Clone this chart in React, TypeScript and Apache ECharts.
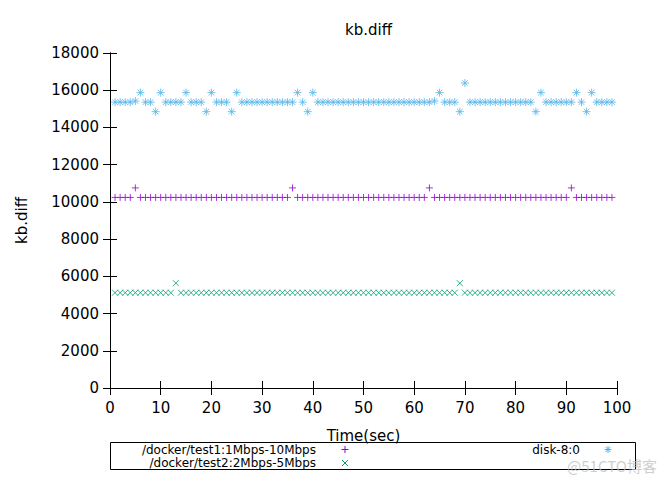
import React, { useEffect, useRef } from 'react';
import * as echarts from 'echarts';

const time = [
  1, 2, 3, 4, 5, 6, 7, 8, 9, 10,
  11, 12, 13, 14, 15, 16, 17, 18, 19, 20,
  21, 22, 23, 24, 25, 26, 27, 28, 29, 30,
  31, 32, 33, 34, 35, 36, 37, 38, 39, 40,
  41, 42, 43, 44, 45, 46, 47, 48, 49, 50,
  51, 52, 53, 54, 55, 56, 57, 58, 59, 60,
  61, 62, 63, 64, 65, 66, 67, 68, 69, 70,
  71, 72, 73, 74, 75, 76, 77, 78, 79, 80,
  81, 82, 83, 84, 85, 86, 87, 88, 89, 90,
  91, 92, 93, 94, 95, 96, 97, 98, 99,
];

const test1 = [
  10240, 10240, 10240, 10240, 10752, 10240, 10240, 10240, 10240, 10240,
  10240, 10240, 10240, 10240, 10240, 10240, 10240, 10240, 10240, 10240,
  10240, 10240, 10240, 10240, 10240, 10240, 10240, 10240, 10240, 10240,
  10240, 10240, 10240, 10240, 10240, 10752, 10240, 10240, 10240, 10240,
  10240, 10240, 10240, 10240, 10240, 10240, 10240, 10240, 10240, 10240,
  10240, 10240, 10240, 10240, 10240, 10240, 10240, 10240, 10240, 10240,
  10240, 10240, 10752, 10240, 10240, 10240, 10240, 10240, 10240, 10240,
  10240, 10240, 10240, 10240, 10240, 10240, 10240, 10240, 10240, 10240,
  10240, 10240, 10240, 10240, 10240, 10240, 10240, 10240, 10240, 10240,
  10752, 10240, 10240, 10240, 10240, 10240, 10240, 10240, 10240,
];

const test2 = [
  5120, 5120, 5120, 5120, 5120, 5120, 5120, 5120, 5120, 5120,
  5120, 5120, 5632, 5120, 5120, 5120, 5120, 5120, 5120, 5120,
  5120, 5120, 5120, 5120, 5120, 5120, 5120, 5120, 5120, 5120,
  5120, 5120, 5120, 5120, 5120, 5120, 5120, 5120, 5120, 5120,
  5120, 5120, 5120, 5120, 5120, 5120, 5120, 5120, 5120, 5120,
  5120, 5120, 5120, 5120, 5120, 5120, 5120, 5120, 5120, 5120,
  5120, 5120, 5120, 5120, 5120, 5120, 5120, 5120, 5632, 5120,
  5120, 5120, 5120, 5120, 5120, 5120, 5120, 5120, 5120, 5120,
  5120, 5120, 5120, 5120, 5120, 5120, 5120, 5120, 5120, 5120,
  5120, 5120, 5120, 5120, 5120, 5120, 5120, 5120, 5120,
];

const disk = [
  15360, 15360, 15360, 15360, 15420, 15872, 15360, 15360, 14848, 15872,
  15360, 15360, 15360, 15360, 15872, 15360, 15360, 15360, 14848, 15872,
  15360, 15360, 15360, 14848, 15872, 15360, 15360, 15360, 15360, 15360,
  15360, 15360, 15360, 15360, 15360, 15360, 15872, 15360, 14848, 15872,
  15360, 15360, 15360, 15360, 15360, 15360, 15360, 15360, 15360, 15360,
  15360, 15360, 15360, 15360, 15360, 15360, 15360, 15360, 15360, 15360,
  15360, 15360, 15360, 15420, 15872, 15360, 15360, 15360, 14848, 16384,
  15360, 15360, 15360, 15360, 15360, 15360, 15360, 15360, 15360, 15360,
  15360, 15360, 15360, 14848, 15872, 15360, 15360, 15360, 15360, 15360,
  15360, 15872, 15360, 14848, 15872, 15360, 15360, 15360, 15360,
];

const seriesNames = ['/docker/test1:1Mbps-10Mbps', '/docker/test2:2Mbps-5Mbps', 'disk-8:0'];
const colors = ['#9400d3', '#009e73', '#56b4e9'];
const symbols = [
  'path://M0,5L10,5M5,0L5,10',
  'path://M0,0L10,10M10,0L0,10',
  'path://M5,0L5,10M0,5L10,5M1.5,1.5L8.5,8.5M8.5,1.5L1.5,8.5',
];
const symbolSizes = [7, 6, 8];
const seriesValues = [test1, test2, disk];

const FONT = 'DejaVu Sans';

function markerLines(kind: number, cx: number, cy: number, color: string) {
  const h = kind === 1 ? 3 : 3.5;
  const segs: number[][] = [];
  if (kind === 0 || kind === 2) {
    segs.push([cx - h, cy, cx + h, cy]);
    segs.push([cx, cy - h, cx, cy + h]);
  }
  if (kind === 1 || kind === 2) {
    const d = kind === 2 ? 2.5 : h;
    segs.push([cx - d, cy - d, cx + d, cy + d]);
    segs.push([cx + d, cy - d, cx - d, cy + d]);
  }
  return segs.map((s) => ({
    type: 'line',
    shape: { x1: s[0], y1: s[1], x2: s[2], y2: s[3] },
    style: { stroke: color, lineWidth: 1 },
    silent: true,
  }));
}

export default function App() {
  const ref = useRef<HTMLDivElement>(null);

  useEffect(() => {
    document.body.style.margin = '0';
    if (!ref.current) return;
    const chart = echarts.init(ref.current, undefined, { renderer: 'svg' });

    const axisCommon = {
      type: 'value',
      axisLine: { show: true, lineStyle: { color: '#000', width: 1 } },
      axisTick: { show: true, inside: true, length: 7, lineStyle: { color: '#000', width: 1 } },
      splitLine: { show: false },
    };

    const plain = (v: number) => String(v);

    const option: any = {
      animation: false,
      backgroundColor: '#fff',
      textStyle: { fontFamily: FONT },
      title: {
        text: 'kb.diff',
        left: 340,
        top: 17,
        textStyle: { fontFamily: FONT, fontSize: 15, fontWeight: 'normal', color: '#000' },
      },
      grid: { left: 110, right: 55, top: 53, bottom: 93, containLabel: false },
      xAxis: [
        {
          ...axisCommon,
          position: 'bottom',
          min: 0,
          max: 100,
          interval: 10,
          name: 'Time(sec)',
          nameLocation: 'middle',
          nameGap: 40,
          nameTextStyle: { fontFamily: FONT, fontSize: 15, color: '#000' },
          axisLabel: { show: true, fontFamily: FONT, fontSize: 15, color: '#000', margin: 12, formatter: plain },
        },
        {
          ...axisCommon,
          position: 'top',
          min: 0,
          max: 100,
          interval: 10,
          axisLabel: { show: false },
        },
      ],
      yAxis: [
        {
          ...axisCommon,
          position: 'left',
          min: 0,
          max: 18000,
          interval: 2000,
          name: 'kb.diff',
          nameLocation: 'middle',
          nameGap: 81,
          nameRotate: 90,
          nameTextStyle: { fontFamily: FONT, fontSize: 15, color: '#000' },
          axisLabel: { show: true, fontFamily: FONT, fontSize: 15, color: '#000', margin: 11, formatter: plain },
        },
        {
          ...axisCommon,
          position: 'right',
          min: 0,
          max: 18000,
          interval: 2000,
          axisLabel: { show: false },
        },
      ],
      series: seriesValues.map((vals, i) => ({
        name: seriesNames[i],
        type: 'scatter',
        xAxisIndex: 0,
        yAxisIndex: 0,
        symbol: symbols[i],
        symbolSize: symbolSizes[i],
        itemStyle: { color: 'transparent', borderColor: colors[i], borderWidth: 1 },
        emphasis: { disabled: true },
        data: time.map((t, j) => [t, vals[j]]),
      })),
      graphic: [
        {
          type: 'rect',
          shape: { x: 110.5, y: 442.5, width: 525, height: 27 },
          style: { fill: 'none', stroke: '#000', lineWidth: 1 },
          silent: true,
        },
        {
          type: 'text',
          x: 316,
          y: 449.5,
          style: {
            text: seriesNames[0],
            fontFamily: FONT,
            fontSize: 12,
            fill: '#000',
            textAlign: 'right',
            textVerticalAlign: 'middle',
          },
        },
        {
          type: 'text',
          x: 316,
          y: 463,
          style: {
            text: seriesNames[1],
            fontFamily: FONT,
            fontSize: 12,
            fill: '#000',
            textAlign: 'right',
            textVerticalAlign: 'middle',
          },
        },
        {
          type: 'text',
          x: 580,
          y: 449.5,
          style: {
            text: seriesNames[2],
            fontFamily: FONT,
            fontSize: 12,
            fill: '#000',
            textAlign: 'right',
            textVerticalAlign: 'middle',
          },
        },
        { type: 'group', children: markerLines(0, 345, 449.5, colors[0]) },
        { type: 'group', children: markerLines(1, 345, 463, colors[1]) },
        { type: 'group', children: markerLines(2, 608, 449.5, colors[2]) },
        {
          type: 'text',
          x: 612,
          y: 465,
          style: {
            text: '@51CTO博客',
            fontFamily: 'Noto Sans CJK SC',
            fontSize: 15,
            fill: 'rgba(190,190,190,0.75)',
            textAlign: 'center',
            textVerticalAlign: 'middle',
          },
          silent: true,
        },
      ],
    };

    chart.setOption(option);
    return () => chart.dispose();
  }, []);

  return <div ref={ref} style={{ width: 672, height: 481 }} />;
}
